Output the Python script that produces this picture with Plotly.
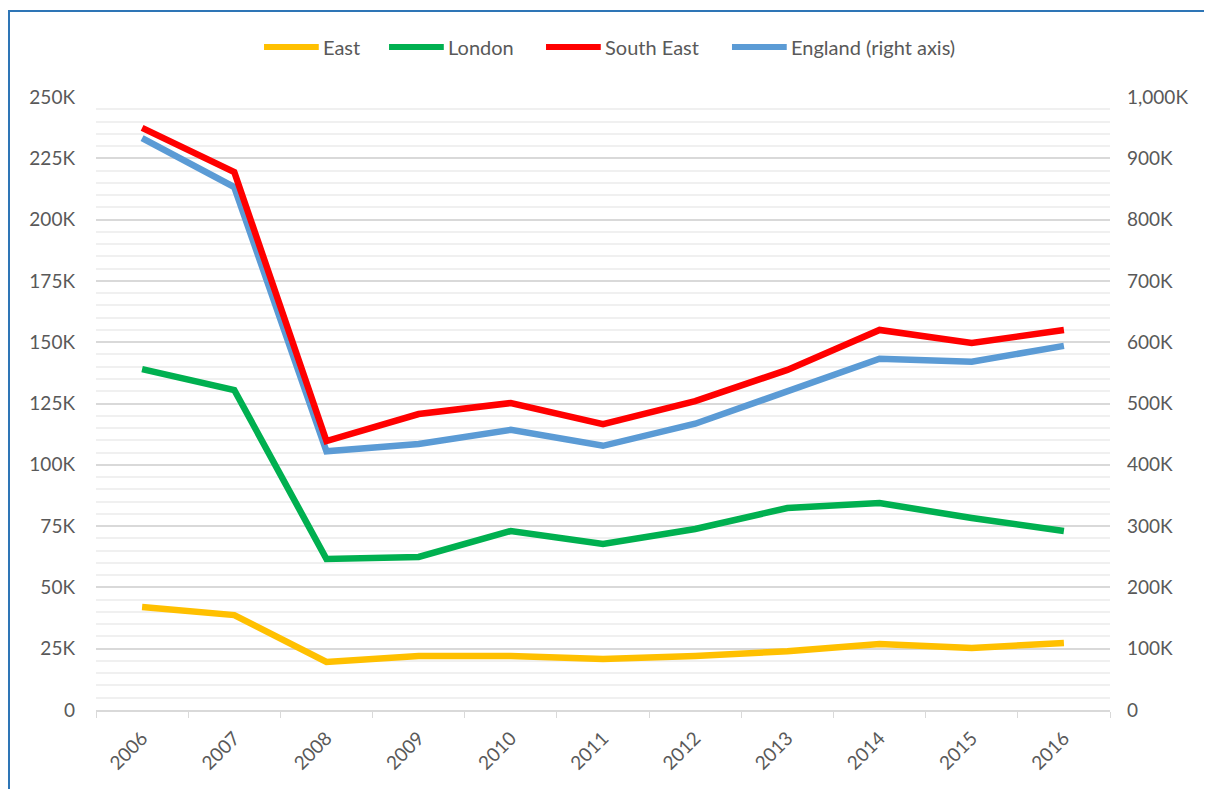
import plotly.graph_objects as go

# values in thousands
years = ["2006", "2007", "2008", "2009", "2010", "2011", "2012", "2013", "2014", "2015", "2016"]
east = [42.0, 38.7, 19.6, 22.0, 22.0, 20.8, 22.0, 24.0, 26.9, 25.3, 27.3]
london = [139.0, 130.5, 61.6, 62.4, 73.0, 67.7, 73.8, 82.4, 84.4, 78.3, 73.0]
south_east = [237.4, 219.4, 109.7, 120.7, 125.2, 116.6, 126.0, 138.7, 155.0, 149.7, 155.0]
england = [933, 853, 422, 434, 457, 431, 467, 519, 573, 568, 594]

left_ticks = [0, 25, 50, 75, 100, 125, 150, 175, 200, 225, 250]
left_labels = ["0", "25K", "50K", "75K", "100K", "125K", "150K", "175K", "200K", "225K", "250K"]
right_ticks = [0, 100, 200, 300, 400, 500, 600, 700, 800, 900, 1000]
right_labels = ["0", "100K", "200K", "300K", "400K", "500K", "600K", "700K", "800K", "900K", "1,000K"]

FONT = "Lato"
GREY = "#595959"
series = [
    ("East", east, "#FFC000", "y2"),
    ("London", london, "#00B050", "y2"),
    ("South East", south_east, "#FF0000", "y2"),
    ("England (right axis)", england, "#5B9BD5", "y"),
]

fig = go.Figure()
for name, vals, color, axis in series:
    fig.add_trace(go.Scatter(x=years, y=vals, name=name, mode="lines",
                             line=dict(color=color, width=6.5), yaxis=axis))

# legend drawn by hand so the swatches can be as long as in the original
shapes = []
annotations = []
leg_x = [0.1657, 0.2890, 0.4438, 0.6272]   # swatch start, paper fraction
sw = 0.054
for (name, vals, color, axis), x0 in zip(series, leg_x):
    shapes.append(dict(type="line", xref="paper", yref="paper", x0=x0, x1=x0 + sw,
                       y0=1.0816, y1=1.0816, line=dict(color=color, width=6)))
    annotations.append(dict(xref="paper", yref="paper", x=x0 + sw + 0.002, y=1.0816,
                            text=name, showarrow=False, xanchor="left", yanchor="middle",
                            font=dict(family=FONT, size=20, color=GREY)))

shapes.append(dict(type="rect", xref="paper", yref="paper",
                   x0=-0.0858, x1=1.0976, y0=-0.2, y1=1.1403,
                   line=dict(color="#2E75B6", width=2), fillcolor="rgba(0,0,0,0)"))

fig.update_layout(
    width=1212, height=789,
    margin=dict(l=88, r=110, t=89, b=87),
    paper_bgcolor="white", plot_bgcolor="white",
    font=dict(family=FONT, size=18, color=GREY),
    showlegend=False,
    xaxis=dict(type="category", range=[-0.5, 10.5], tickangle=-45,
               showline=True, linecolor="#D9D9D9", linewidth=1.5,
               ticks="outside", tickson="boundaries", ticklen=6, tickcolor="#D9D9D9",
               showgrid=False, ticklabelstandoff=8, tickfont=dict(size=19, color=GREY)),
    # right axis carries England and the gridlines (they coincide with left ticks)
    yaxis=dict(side="right", range=[0, 1000], tickvals=right_ticks, ticktext=right_labels,
               showgrid=True, gridcolor="#D9D9D9", gridwidth=1.5, zeroline=False,
               minor=dict(dtick=20, showgrid=True, gridcolor="#F0F0F0", gridwidth=1.5),
               ticklabelstandoff=16, tickfont=dict(size=19, color=GREY)),
    yaxis2=dict(side="left", overlaying="y", range=[0, 250], tickvals=left_ticks,
                ticktext=left_labels, showgrid=False, zeroline=False,
                ticklabelstandoff=20, tickfont=dict(size=19, color=GREY)),
    shapes=shapes,
    annotations=annotations,
)

fig.write_html("out.html")
